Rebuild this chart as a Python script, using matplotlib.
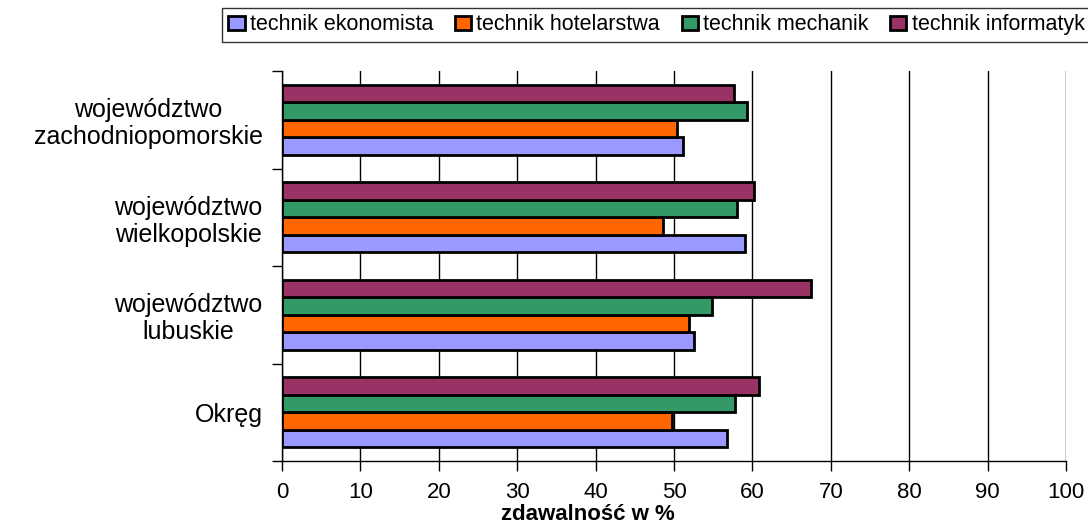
import matplotlib
matplotlib.use("Agg")
import matplotlib.pyplot as plt
import numpy as np

plt.rcParams['font.family'] = ['Liberation Sans', 'DejaVu Sans']

categories = ["Okręg", "województwo\nlubuskie", "województwo\nwielkopolskie", "województwo\nzachodniopomorskie"]
series_names = ["technik ekonomista", "technik hotelarstwa", "technik mechanik", "technik informatyk"]
ekonomista = [56.7, 52.6, 59.1, 51.1]
hotelarstwa = [49.8, 51.9, 48.6, 50.4]
mechanik = [57.8, 54.8, 58.0, 59.3]
informatyk = [60.9, 67.5, 60.2, 57.7]
xticks = [0, 10, 20, 30, 40, 50, 60, 70, 80, 90, 100]

colors = ["#9999FF", "#FF6600", "#339966", "#993366"]
series = [ekonomista, hotelarstwa, mechanik, informatyk]

fig = plt.figure(figsize=(10.88, 5.31), dpi=100)
ax = fig.add_axes([282/1088, 1 - 461/531, (1066-282)/1088, (461-71)/531])

y = np.arange(len(categories))
h = 0.18
offsets = [-0.27, -0.09, 0.09, 0.27]
for vals, c, off, name in zip(series, colors, offsets, series_names):
    ax.barh(y + off, vals, height=h, color=c, edgecolor='black', linewidth=2, label=name, zorder=3)

ax.set_xlim(0, 100)
ax.set_ylim(-0.5, len(categories) - 0.5)
ax.set_xticks(xticks)
ax.set_xticklabels([str(t) for t in xticks], fontsize=16)
ax.set_yticks(y)
ax.set_yticklabels(categories, fontsize=18, multialignment='center', linespacing=1.15)
ax.set_yticks(np.arange(-0.5, len(categories)), minor=True)
ax.tick_params(axis='y', which='major', length=0, pad=14)
ax.tick_params(axis='y', which='minor', length=7, width=1)
ax.tick_params(axis='x', length=7, width=1, pad=8)
ax.xaxis.grid(True, color='black', linewidth=1, zorder=0)
ax.set_axisbelow(True)
for s in ['top', 'right']:
    ax.spines[s].set_visible(False)
ax.spines['left'].set_linewidth(1)
ax.spines['bottom'].set_linewidth(1)
ax.set_xlabel("zdawalność w %", fontsize=16, fontweight='bold')
ax.xaxis.set_label_coords((588-282)/784, (461-504)/390)

leg = fig.legend(loc='upper left', bbox_to_anchor=(222/1088, 1 - 8/531), ncol=4, fontsize=15.5,
                 frameon=True, fancybox=False, edgecolor='black', handlelength=0.75, handleheight=0.65,
                 handletextpad=0.25, columnspacing=1.0, borderpad=0.3, borderaxespad=0)
leg.get_frame().set_linewidth(1)
for p in leg.get_patches():
    p.set_linewidth(2)

fig.savefig("out.png", dpi=100)
